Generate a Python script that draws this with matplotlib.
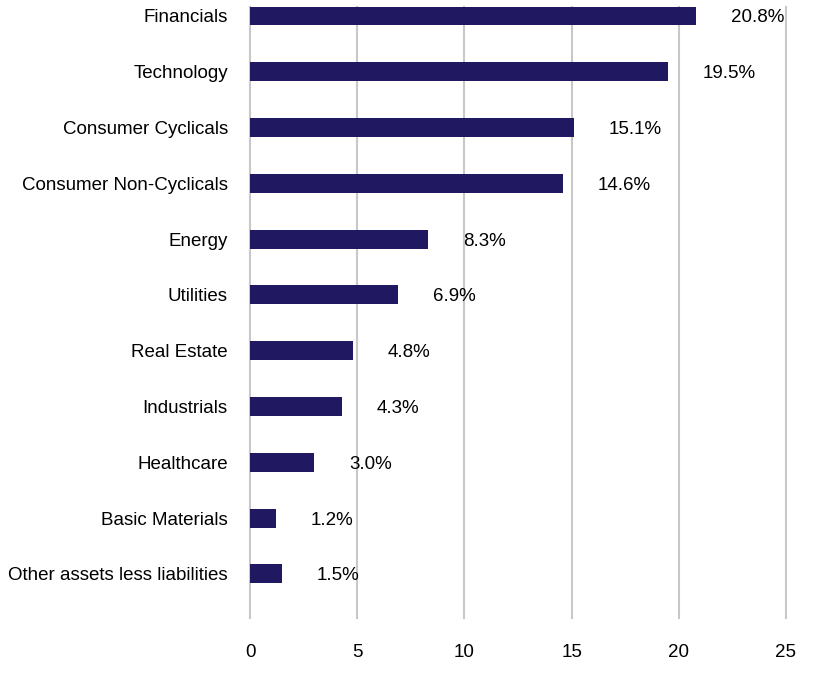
import matplotlib.pyplot as plt

# Sector weights (%), listed bottom to top
sectors = ['Other assets less liabilities', 'Basic Materials', 'Healthcare', 'Industrials',
           'Real Estate', 'Utilities', 'Energy', 'Consumer Non-Cyclicals',
           'Consumer Cyclicals', 'Technology', 'Financials']
weights = [1.5, 1.2, 3.0, 4.3, 4.8, 6.9, 8.3, 14.6, 15.1, 19.5, 20.8]
xticks = [0, 5, 10, 15, 20, 25]

plt.rcParams['font.family'] = ['Liberation Sans', 'DejaVu Sans']

fig = plt.figure(figsize=(8.16, 6.82), dpi=100)
ax = fig.add_axes([250 / 816, 1 - 618 / 682, 536 / 816, 611 / 682])

y = range(len(sectors))
ax.barh(y, weights, height=0.34, color='#201860', zorder=3)

for yi, w in zip(y, weights):
    ax.annotate(f'{w:.1f}%', (w, yi), xytext=(25, 0), textcoords='offset points',
                va='center_baseline', ha='left', fontsize=13.5, color='black')

ax.set_xlim(0, 25)
ax.set_ylim(-0.79, 10.16)
ax.set_xticks(xticks)
ax.set_yticks(list(y))
ax.set_yticklabels(sectors)
ax.tick_params(axis='both', length=0, labelsize=13.5)
ax.tick_params(axis='x', pad=18.5)
ax.tick_params(axis='y', pad=16)
ax.grid(axis='x', color='#c8c8c8', linewidth=1.5, zorder=0)
for gl in ax.get_xgridlines():
    gl.set_clip_on(False)
for s in ax.spines.values():
    s.set_visible(False)

plt.savefig('out.png', dpi=100)
